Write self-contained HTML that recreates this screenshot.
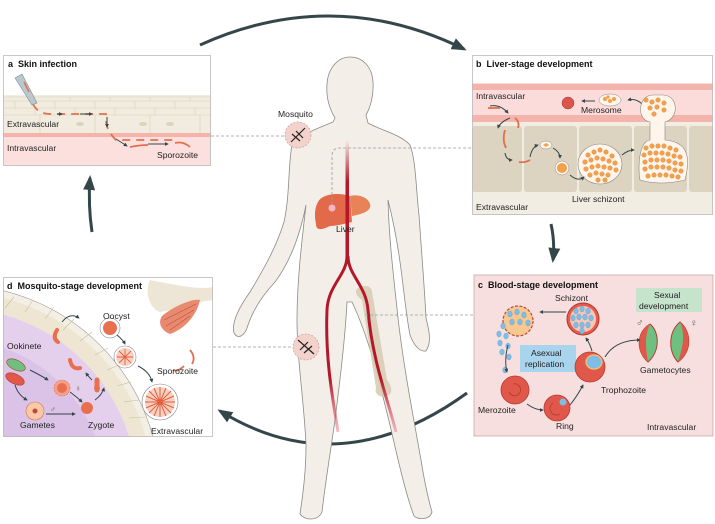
<!DOCTYPE html>
<html><head><meta charset="utf-8"><style>
html,body{margin:0;padding:0;background:#fff;width:715px;height:524px;overflow:hidden;}
svg{display:block;font-family:"Liberation Sans",sans-serif;}
.t{font-size:8.6px;fill:#222;}
.h{font-size:9px;font-weight:bold;fill:#111;}
</style></head><body>
<svg width="715" height="524" viewBox="0 0 715 524" xmlns="http://www.w3.org/2000/svg">
<defs>
<marker id="ah" viewBox="0 0 10 10" refX="8" refY="5" markerWidth="4" markerHeight="4" orient="auto"><path d="M0,0 L10,5 L0,10 z" fill="#34464a"/></marker>
<marker id="as" viewBox="0 0 10 10" refX="8" refY="5" markerWidth="5" markerHeight="5" orient="auto"><path d="M0,1 L10,5 L0,9 z" fill="#34464a"/></marker>
<linearGradient id="art" x1="0" y1="0" x2="0" y2="1"><stop offset="0" stop-color="#b3182a" stop-opacity="0"/><stop offset="0.35" stop-color="#b3182a"/><stop offset="1" stop-color="#b3182a"/></linearGradient>
<linearGradient id="leg" x1="0" y1="0" x2="0" y2="1"><stop offset="0" stop-color="#b3182a"/><stop offset="0.7" stop-color="#b3182a"/><stop offset="1" stop-color="#e06070" stop-opacity="0.4"/></linearGradient>
<clipPath id="cd"><rect x="3" y="277" width="210" height="160"/></clipPath>
<clipPath id="cb"><rect x="472" y="55" width="241" height="160"/></clipPath>
<clipPath id="ca"><rect x="3" y="55" width="208" height="111"/></clipPath>
</defs>

<path d="M200,45 Q333,-15 464,49" fill="none" stroke="#34464a" stroke-width="3" marker-end="url(#as)"/>
<path d="M467,393 Q340,485 220,411" fill="none" stroke="#34464a" stroke-width="3" marker-end="url(#as)"/>
<path d="M92,232 Q88,205 90,178" fill="none" stroke="#34464a" stroke-width="3" marker-end="url(#as)"/>
<path d="M551,224 Q555,242 553,260" fill="none" stroke="#34464a" stroke-width="3" marker-end="url(#as)"/>

<path d="M350,57 C362,57 372,66 373,82 C374,96 370,108 366,115 L368,123 C380,130 400,134 410,145 C416,160 416,190 419,215 C421,245 424,280 426,318 C429,330 432,342 426,351 C420,352 414,346 410,335 C406,315 404,290 400,262 C397,240 393,220 388,200 C389,240 394,280 398,318 C404,370 414,420 421,460 C425,485 430,505 432,512 C430,520 418,520 414,516 C406,495 398,460 390,425 C380,385 370,340 352,302 L347,302 C345,340 340,380 335,420 C330,455 325,485 322,512 C318,521 305,521 300,514 C302,500 306,475 306,445 C304,400 297,360 297,320 C297,280 302,240 306,205 C300,235 290,262 275,282 C262,296 253,310 248,325 C245,336 238,340 234,333 C231,322 240,306 250,292 C262,272 276,248 284,222 C290,195 288,165 292,145 C300,135 318,128 333,122 L335,118 C329,108 326,96 327,84 C328,68 338,57 350,57 Z" fill="#f3efe8" stroke="#8a8a86" stroke-width="0.8"/>
<path d="M358,288 C364,284 372,286 372,292 L387,380 C392,386 394,394 386,396 C380,398 374,394 376,388 L362,300 C356,296 354,291 358,288 Z" fill="#d8ccb4" opacity="0.9"/>
<rect x="345.5" y="140" width="3.5" height="120" fill="url(#art)"/>
<path d="M347,256 C347,275 328,285 327,310 C325,360 333,400 338,432" fill="none" stroke="url(#leg)" stroke-width="3"/>
<path d="M348,256 C348,275 366,285 368,310 C372,360 388,400 396,432" fill="none" stroke="url(#leg)" stroke-width="3"/>
<path d="M318,202 C322,194 338,192 350,196 L352,222 C344,224 336,226 330,226 C322,230 316,231 316,224 C314,215 315,207 318,202 Z" fill="#e2694a"/>
<path d="M350,196 C358,194 368,197 370,204 C372,210 364,214 352,216 Z" fill="#e88358"/>
<rect x="345.5" y="190" width="3.5" height="40" fill="#b3182a"/>
<circle cx="332" cy="208" r="3.5" fill="#f6b6c4"/>
<text class="t" x="336" y="232">Liver</text>
<g fill="none" stroke="#9a9a9a" stroke-width="0.8" stroke-dasharray="3,2">
<path d="M211,136 H285"/>
<path d="M332,205 V156 Q332,148 340,148 H472"/>
<path d="M213,347 H293"/>
<path d="M365,315 H474"/>
</g>
<circle cx="298" cy="135" r="13" fill="#f3d2cb" stroke="#c99" stroke-width="0.7" stroke-dasharray="2,1.5"/>
<path d="M291,142 L305,128 M292,134 L300,141 M296,131 L303,138" stroke="#222" stroke-width="1.2"/>
<circle cx="306" cy="347" r="13" fill="#f3d2cb" stroke="#c99" stroke-width="0.7" stroke-dasharray="2,1.5"/>
<path d="M298,340 L314,354 M300,350 L308,342 M304,353 L312,346" stroke="#222" stroke-width="1.2"/>
<text class="t" x="278" y="117">Mosquito</text>

<g clip-path="url(#ca)">
<rect x="3" y="55" width="208" height="111" fill="#fff"/>
<rect x="3" y="95" width="208" height="38" fill="#f1ecdf"/>
<g stroke="#d9cfb8" stroke-width="0.6" fill="none">
<path d="M3,97 H211 M3,101 H211 M3,108 H211 M3,115 H211"/>
<path d="M30,97v4 M70,97v4 M110,97v4 M150,97v4 M190,97v4 M15,101v7 M55,101v7 M95,101v7 M135,101v7 M175,101v7 M35,108v7 M75,108v7 M115,108v7 M155,108v7 M195,108v7 M40,115v18 M95,115v18 M150,115v18 M200,115v18"/>
</g>
<g fill="#ddd2bc"><ellipse cx="80" cy="124" rx="4" ry="2"/><ellipse cx="143" cy="124" rx="4" ry="2"/><ellipse cx="170" cy="124" rx="4" ry="2"/></g>
<rect x="3" y="133" width="208" height="33" fill="#fbe0de"/>
<rect x="3" y="133" width="208" height="4" fill="#f4b4ac"/>
<path d="M15,78 L32,105 L37,103 L22,74 Z" fill="#b8c8cc" stroke="#7d8f94" stroke-width="0.6"/>
<path d="M24,82 L29,92" stroke="#e07050" stroke-width="1.5"/>
<path d="M33,104 Q38,114 50,114 H106 V120 Q106,130 116,140 H176" fill="none" stroke="#e07050" stroke-width="1.8" stroke-dasharray="8,6"/>
<path d="M57,114 H62" stroke="#34464a" stroke-width="1" marker-end="url(#ah)"/>
<path d="M80,114 H92" stroke="#34464a" stroke-width="1" marker-end="url(#ah)"/>
<path d="M107,117 V127" stroke="#34464a" stroke-width="1" marker-end="url(#ah)"/>
<path d="M116,139 L127,146" stroke="#34464a" stroke-width="1" marker-end="url(#ah)"/>
<path d="M148,144 H168" stroke="#34464a" stroke-width="1" marker-end="url(#ah)"/>
<path d="M130,147 Q140,145 148,145 M175,143 Q183,141 190,147" fill="none" stroke="#e07050" stroke-width="1.8"/>
<text class="t" x="7" y="127">Extravascular</text>
<text class="t" x="7" y="151">Intravascular</text>
<text class="t" x="157" y="158">Sporozoite</text>
<text class="h" x="8" y="67">a&#160; Skin infection</text>
</g>
<rect x="3.5" y="55.5" width="207" height="110" fill="none" stroke="#bbb" stroke-width="0.8"/>

<g clip-path="url(#cb)">
<rect x="472" y="55" width="241" height="160" fill="#fff"/>
<rect x="472" y="83" width="241" height="39" fill="#fbdcda"/>
<rect x="472" y="84" width="241" height="6" fill="#f4b4ac"/>
<rect x="472" y="115" width="241" height="7" fill="#f4b4ac"/>
<rect x="472" y="122" width="241" height="93" fill="#f2ede3"/>
<g fill="#dcd3c0">
<rect x="472" y="126" width="50" height="66" rx="3"/>
<rect x="524" y="126" width="53" height="66" rx="3"/>
<rect x="579" y="126" width="53" height="66" rx="3"/>
<rect x="634" y="126" width="53" height="66" rx="3"/>
<rect x="689" y="126" width="30" height="66" rx="3"/>
</g>
<text class="t" x="476" y="99">Intravascular</text>
<text class="t" x="476" y="210">Extravascular</text>
<text class="t" x="581" y="113">Merosome</text>
<text class="t" x="572" y="202">Liver schizont</text>
<ellipse cx="568" cy="103" rx="6" ry="6" fill="#d9564a" stroke="#a33" stroke-width="0.5"/>
<ellipse cx="610" cy="100" rx="11" ry="6" fill="#fff5ea" stroke="#888" stroke-width="0.5"/>
<g fill="#f4a04a"><circle cx="605" cy="99" r="2"/><circle cx="610" cy="101" r="2"/><circle cx="614" cy="99" r="2"/><circle cx="608" cy="97" r="1.6"/></g>
<path d="M595,101 H582" stroke="#34464a" stroke-width="1" marker-end="url(#ah)"/>
<path d="M642,104 Q636,98 628,100" fill="none" stroke="#34464a" stroke-width="1" marker-end="url(#ah)"/>
<path d="M653,95 C638,95 636,120 650,122 L650,140 C638,142 638,170 640,180 Q660,186 685,180 C690,160 690,142 665,140 L665,122 C680,118 678,95 663,95 Z" fill="#fff5ea" stroke="#888" stroke-width="0.6"/>
<ellipse cx="600" cy="164" rx="22" ry="20" fill="#fff5ea" stroke="#888" stroke-width="0.6"/>
<g fill="#f4a04a" stroke="#c97a30" stroke-width="0.3">
<circle cx="588" cy="155" r="2.3"/><circle cx="594" cy="152" r="2.3"/><circle cx="600" cy="150" r="2.3"/><circle cx="606" cy="152" r="2.3"/><circle cx="612" cy="156" r="2.3"/>
<circle cx="585" cy="162" r="2.3"/><circle cx="591" cy="160" r="2.3"/><circle cx="597" cy="158" r="2.3"/><circle cx="603" cy="159" r="2.3"/><circle cx="609" cy="161" r="2.3"/><circle cx="615" cy="163" r="2.3"/>
<circle cx="586" cy="169" r="2.3"/><circle cx="592" cy="167" r="2.3"/><circle cx="598" cy="166" r="2.3"/><circle cx="604" cy="167" r="2.3"/><circle cx="610" cy="168" r="2.3"/><circle cx="616" cy="170" r="2.3"/>
<circle cx="590" cy="175" r="2.3"/><circle cx="596" cy="173" r="2.3"/><circle cx="602" cy="174" r="2.3"/><circle cx="608" cy="175" r="2.3"/><circle cx="598" cy="180" r="2.3"/><circle cx="605" cy="180" r="2.3"/>
<circle cx="646" cy="100" r="2.3"/><circle cx="652" cy="102" r="2.3"/><circle cx="658" cy="100" r="2.3"/><circle cx="664" cy="103" r="2.3"/><circle cx="650" cy="108" r="2.3"/><circle cx="657" cy="107" r="2.3"/><circle cx="664" cy="110" r="2.3"/><circle cx="654" cy="114" r="2.3"/>
<circle cx="646" cy="148" r="2.3"/><circle cx="652" cy="146" r="2.3"/><circle cx="658" cy="146" r="2.3"/><circle cx="664" cy="146" r="2.3"/><circle cx="670" cy="148" r="2.3"/><circle cx="676" cy="150" r="2.3"/>
<circle cx="644" cy="155" r="2.3"/><circle cx="650" cy="153" r="2.3"/><circle cx="656" cy="153" r="2.3"/><circle cx="662" cy="153" r="2.3"/><circle cx="668" cy="154" r="2.3"/><circle cx="674" cy="156" r="2.3"/><circle cx="680" cy="157" r="2.3"/>
<circle cx="645" cy="162" r="2.3"/><circle cx="651" cy="160" r="2.3"/><circle cx="657" cy="160" r="2.3"/><circle cx="663" cy="160" r="2.3"/><circle cx="669" cy="161" r="2.3"/><circle cx="675" cy="163" r="2.3"/><circle cx="681" cy="164" r="2.3"/>
<circle cx="645" cy="169" r="2.3"/><circle cx="651" cy="167" r="2.3"/><circle cx="657" cy="167" r="2.3"/><circle cx="663" cy="167" r="2.3"/><circle cx="669" cy="168" r="2.3"/><circle cx="675" cy="170" r="2.3"/><circle cx="681" cy="171" r="2.3"/>
<circle cx="648" cy="176" r="2.3"/><circle cx="654" cy="175" r="2.3"/><circle cx="660" cy="175" r="2.3"/><circle cx="666" cy="175" r="2.3"/><circle cx="672" cy="176" r="2.3"/><circle cx="678" cy="177" r="2.3"/>
</g>
<ellipse cx="546" cy="145" rx="6" ry="4" fill="#fff5ea" stroke="#888" stroke-width="0.5"/>
<path d="M543,145 L546,143 L549,145 L546,147 Z" fill="#f4a04a"/>
<circle cx="562" cy="168" r="7" fill="#fff5ea" stroke="#888" stroke-width="0.5"/>
<circle cx="562" cy="168" r="5" fill="#f4a04a"/>
<g fill="none" stroke="#34464a" stroke-width="1">
<path d="M490,106 Q500,104 508,113" marker-end="url(#ah)"/>
<path d="M510,118 Q500,122 498,128" marker-end="url(#ah)"/>
<path d="M505,153 Q506,160 512,160" marker-end="url(#ah)"/>
<path d="M530,157 Q532,147 538,145" marker-end="url(#ah)"/>
<path d="M553,148 Q560,152 560,158" marker-end="url(#ah)"/>
<path d="M570,175 Q578,182 584,177" marker-end="url(#ah)"/>
<path d="M622,155 Q628,150 634,150" marker-end="url(#ah)"/>
</g>
<g fill="none" stroke="#e07050" stroke-width="1.8">
<path d="M488,108 H500"/><path d="M515,118 Q520,122 518,128"/><path d="M505,130 Q502,140 506,148"/><path d="M519,162 Q525,163 530,160"/>
</g>
<text class="h" x="476" y="67">b&#160; Liver-stage development</text>
</g>
<rect x="472.5" y="55.5" width="240" height="159" fill="none" stroke="#bbb" stroke-width="0.8"/>

<rect x="474" y="275" width="239" height="161" fill="#f8dfdf" stroke="#c9a8a8" stroke-width="0.8"/>
<text class="h" x="478" y="288">c&#160; Blood-stage development</text>
<text class="t" x="555" y="301">Schizont</text>
<rect x="636" y="288" width="66" height="24" fill="#c6e3cc"/>
<text class="t" x="654" y="298">Sexual</text>
<text class="t" x="639" y="309">development</text>
<rect x="520" y="345" width="56" height="27" fill="#a9d4ee"/>
<text class="t" x="531" y="356">Asexual</text>
<text class="t" x="525" y="367">replication</text>
<text class="t" x="640" y="373">Gametocytes</text>
<text class="t" x="478" y="413">Merozoite</text>
<text class="t" x="556" y="429">Ring</text>
<text class="t" x="601" y="393">Trophozoite</text>
<text class="t" x="647" y="430">Intravascular</text>
<circle cx="518" cy="321" r="15" fill="#f8c890" stroke="#b84a3a" stroke-width="1.2" stroke-dasharray="3,1.5"/>
<circle cx="583" cy="319" r="16" fill="#ea5a4a" stroke="#a83a30" stroke-width="1"/>
<circle cx="583" cy="319" r="13" fill="#f7c8b8"/>
<g fill="#7dbde6" stroke="#4a8fc0" stroke-width="0.3">
<ellipse cx="576" cy="311" rx="2.3" ry="3"/><ellipse cx="582" cy="309" rx="2.3" ry="3"/><ellipse cx="588" cy="311" rx="2.3" ry="3"/><ellipse cx="573" cy="318" rx="2.3" ry="3"/><ellipse cx="579" cy="317" rx="2.3" ry="3"/><ellipse cx="585" cy="317" rx="2.3" ry="3"/><ellipse cx="591" cy="318" rx="2.3" ry="3"/><ellipse cx="576" cy="325" rx="2.3" ry="3"/><ellipse cx="582" cy="325" rx="2.3" ry="3"/><ellipse cx="588" cy="325" rx="2.3" ry="3"/><ellipse cx="582" cy="331" rx="2.3" ry="3"/>
<ellipse cx="510" cy="314" rx="2.3" ry="3"/><ellipse cx="517" cy="312" rx="2.3" ry="3"/><ellipse cx="524" cy="315" rx="2.3" ry="3"/><ellipse cx="512" cy="322" rx="2.3" ry="3"/><ellipse cx="520" cy="322" rx="2.3" ry="3"/><ellipse cx="528" cy="323" rx="2.3" ry="3"/><ellipse cx="503" cy="326" rx="2.3" ry="3"/><ellipse cx="499" cy="334" rx="2.3" ry="3"/><ellipse cx="506" cy="336" rx="2.3" ry="3"/><ellipse cx="500" cy="343" rx="2.3" ry="3"/><ellipse cx="508" cy="346" rx="2.3" ry="3"/><ellipse cx="502" cy="352" rx="2.3" ry="3"/><ellipse cx="509" cy="357" rx="2.3" ry="3"/><ellipse cx="505" cy="370" rx="2.3" ry="3"/>
</g>
<circle cx="515" cy="390" r="14" fill="#e0584a" stroke="#b5392f" stroke-width="0.8"/>
<path d="M513,384 A6,6 0 1 1 509,392" fill="none" stroke="#a83a30" stroke-width="0.7"/>
<circle cx="557" cy="408" r="13" fill="#e0584a" stroke="#b5392f" stroke-width="0.8"/>
<circle cx="563" cy="402" r="3.5" fill="#7dbde6"/>
<path d="M553,403 A6,6 0 1 0 560,414" fill="none" stroke="#a83a30" stroke-width="0.7"/>
<circle cx="590" cy="367" r="15" fill="#e0584a" stroke="#b5392f" stroke-width="0.8"/>
<ellipse cx="594" cy="362" rx="8" ry="7" fill="#7dbde6" stroke="#f3c070" stroke-width="1.3"/>
<path d="M650,324 C636,332 636,352 648,362 C660,352 660,332 650,324 Z" fill="#6fbf80" stroke="#b5392f" stroke-width="1"/>
<path d="M650,324 C644,336 646,350 648,362 C636,352 636,332 650,324 Z" fill="#e0584a"/>
<path d="M680,322 C668,332 668,352 678,362 C692,352 692,332 680,322 Z" fill="#6fbf80" stroke="#b5392f" stroke-width="1"/>
<path d="M680,322 C686,336 682,350 678,362 C692,352 692,332 680,322 Z" fill="#e0584a"/>
<text x="636" y="326" font-size="10" fill="#555">♂</text>
<text x="690" y="326" font-size="10" fill="#555">♀</text>
<g fill="none" stroke="#34464a" stroke-width="1">
<path d="M566,312 H540" marker-end="url(#ah)"/>
<path d="M508,345 Q504,360 507,372" marker-end="url(#ah)"/>
<path d="M527,404 Q535,410 543,410" marker-end="url(#ah)"/>
<path d="M570,405 Q578,395 583,385" marker-end="url(#ah)"/>
<path d="M592,351 Q590,344 586,338" marker-end="url(#ah)"/>
<path d="M605,357 Q615,340 640,340" marker-end="url(#ah)"/>
</g>

<g clip-path="url(#cd)">
<rect x="3" y="277" width="210" height="160" fill="#fff"/>
<circle cx="-45" cy="490" r="205" fill="#f3efe4" stroke="#999" stroke-width="0.6"/>
<circle cx="-45" cy="490" r="198" fill="#eee6d3"/>
<circle cx="-45" cy="490" r="182" fill="#e4d0ec"/>
<circle cx="-45" cy="490" r="150" fill="#d6bde4" opacity="0.7"/>
<g stroke="#c7bca4" stroke-width="0.6">
<path d="M5,308 L14,297 M25,312 L33,300 M45,319 L54,307 M63,330 L74,319 M80,341 L92,332 M95,355 L108,348 M107,370 L121,364 M117,386 L131,382 M124,402 L139,400 M129,418 L145,417"/>
</g>
<path d="M150,280 C175,285 200,290 213,287 L213,300 C195,302 175,310 160,312 C148,308 145,290 150,280 Z" fill="#ede6d6"/>
<path d="M162,316 C175,305 195,298 200,300 C196,318 182,330 170,334 C160,330 158,322 162,316 Z" fill="#e88a70"/>
<g stroke="#c0503a" stroke-width="0.6" fill="none"><path d="M164,320 L196,304 M166,326 L194,310 M170,330 L190,316"/></g>
<circle cx="110" cy="328" r="10" fill="#fff" stroke="#888" stroke-width="0.6"/>
<circle cx="110" cy="328" r="7" fill="#e8704f"/>
<circle cx="125" cy="357" r="11" fill="#fff" stroke="#888" stroke-width="0.6"/>
<circle cx="125" cy="357" r="9" fill="#f8d0c0"/>
<g stroke="#e06040" stroke-width="0.9"><path d="M117,357H133M125,349V365M119,351L131,363M131,351L119,363"/></g>
<circle cx="160" cy="402" r="18" fill="#fff" stroke="#888" stroke-width="0.6"/>
<circle cx="160" cy="402" r="15" fill="#f8d0c0"/>
<g stroke="#e06040" stroke-width="1"><path d="M145,402H175M160,387V417M149,391L171,413M171,391L149,413M146,396L174,408M146,408L174,396M154,388L166,416M166,388L154,416"/></g>
<g fill="none" stroke="#e07050" stroke-width="1.8"><path d="M190,350 Q196,357 192,364"/><path d="M184,366 Q178,372 173,370"/></g>
<path d="M57,330 Q52,338 58,342" fill="none" stroke="#e8704f" stroke-width="4" stroke-linecap="round"/>
<path d="M70,360 Q72,370 80,368" fill="none" stroke="#e8704f" stroke-width="4" stroke-linecap="round"/>
<path d="M97,380 L97,390" stroke="#e8704f" stroke-width="5" stroke-linecap="round"/>
<circle cx="97" cy="388" r="3" fill="#e8704f"/>
<ellipse cx="16" cy="365" rx="10" ry="5" transform="rotate(25 16 365)" fill="#6fbf80" stroke="#b5392f" stroke-width="0.6"/>
<ellipse cx="15" cy="379" rx="10" ry="5" transform="rotate(25 15 379)" fill="#e0584a" stroke="#b5392f" stroke-width="0.6"/>
<circle cx="62" cy="388" r="8" fill="#f5a08a" stroke="#e07050" stroke-width="0.6" stroke-dasharray="2,1"/>
<circle cx="62" cy="388" r="5" fill="#e8704f"/>
<circle cx="35" cy="411" r="9" fill="#f8c8a8" stroke="#e07050" stroke-width="0.6"/>
<circle cx="35" cy="411" r="2.5" fill="#c04a30"/>
<circle cx="87" cy="408" r="6" fill="#e8704f"/>
<text x="50" y="412" font-size="8" fill="#555">♂</text>
<text x="75" y="391" font-size="8" fill="#555">♀</text>
<g fill="none" stroke="#34464a" stroke-width="1">
<path d="M62,322 Q70,312 79,318" marker-end="url(#ah)"/>
<path d="M117,335 Q123,340 125,344" marker-end="url(#ah)"/>
<path d="M138,366 Q150,372 152,382" marker-end="url(#ah)"/>
<path d="M30,370 Q40,375 48,380" marker-end="url(#ah)"/>
<path d="M15,385 Q18,395 27,400" marker-end="url(#ah)"/>
<path d="M46,414 H75" marker-end="url(#ah)"/>
<path d="M70,392 Q78,398 82,402" marker-end="url(#ah)"/>
<path d="M95,400 Q102,395 104,388" marker-end="url(#ah)"/>
<path d="M92,380 Q88,376 86,373" marker-end="url(#ah)"/>
</g>
<text class="t" x="7" y="349">Ookinete</text>
<text class="t" x="103" y="319">Oocyst</text>
<text class="t" x="157" y="374">Sporozoite</text>
<text class="t" x="20" y="428">Gametes</text>
<text class="t" x="88" y="428">Zygote</text>
<text class="t" x="151" y="434">Extravascular</text>
<text class="h" x="7" y="289">d&#160; Mosquito-stage development</text>
</g>
<rect x="3.5" y="277.5" width="209" height="159" fill="none" stroke="#bbb" stroke-width="0.8"/>
</svg>
</body></html>
